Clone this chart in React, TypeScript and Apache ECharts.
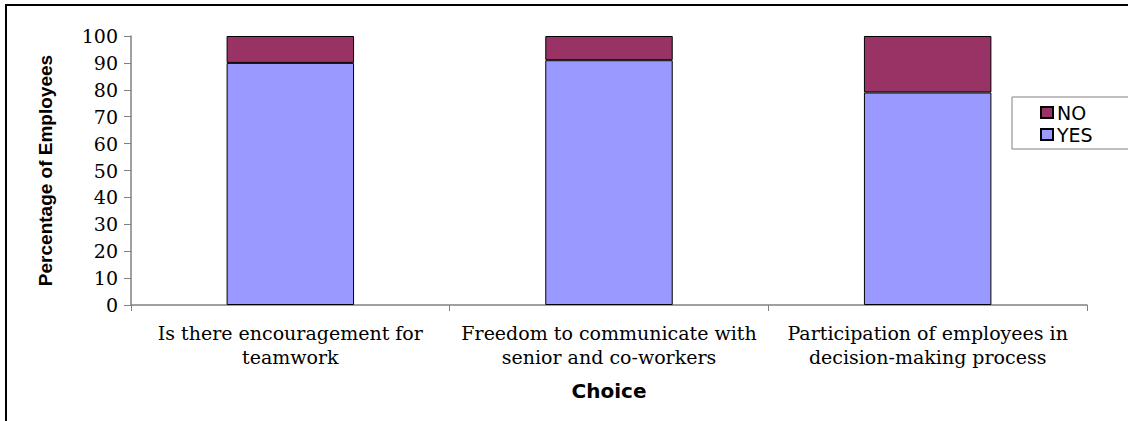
import React, { useEffect, useRef } from "react";
import * as echarts from "echarts";

const categories = [
  "Is there encouragement for\nteamwork",
  "Freedom to communicate with\nsenior and co-workers",
  "Participation of employees in\ndecision-making process",
];
const yesValues = [90, 91, 79];
const noValues = [10, 9, 21];
const yTicks = { min: 0, max: 100, interval: 10 };

export default function App() {
  const ref = useRef<HTMLDivElement>(null);
  useEffect(() => {
    if (!ref.current) return;
    const chart = echarts.init(ref.current, null, { renderer: "svg" });
    chart.setOption({
      animation: false,
      backgroundColor: "#ffffff",
      graphic: [
        {
          type: "rect",
          shape: { x: 6, y: 5, width: 1300, height: 600 },
          style: { fill: "none", stroke: "#000000", lineWidth: 2 },
          silent: true,
          z: 100,
        },
      ],
      grid: { left: 131, right: 41, top: 36, bottom: 116 },
      legend: {
        data: ["NO", "YES"],
        orient: "vertical",
        left: 1012,
        top: 97,
        padding: [6, 40, 5, 28],
        itemGap: 3,
        itemWidth: 12,
        itemHeight: 11,
        icon: "rect",
        borderColor: "#808080",
        borderWidth: 1,
        backgroundColor: "#ffffff",
        textStyle: { fontFamily: "DejaVu Sans", fontSize: 19, color: "#000", padding: [0, 0, 0, -1] },
      },
      xAxis: {
        type: "category",
        data: categories,
        name: "Choice",
        nameLocation: "middle",
        nameGap: 76,
        nameTextStyle: { fontFamily: "DejaVu Sans", fontWeight: "bold", fontSize: 20, color: "#000" },
        axisLine: { lineStyle: { color: "#808080", width: 1.5 } },
        axisTick: { show: true, length: 6, lineStyle: { color: "#808080" } },
        axisLabel: {
          interval: 0,
          margin: 16,
          fontFamily: "DejaVu Serif",
          fontSize: 19,
          lineHeight: 24,
          color: "#000",
        },
      },
      yAxis: {
        type: "value",
        min: yTicks.min,
        max: yTicks.max,
        interval: yTicks.interval,
        name: "Percentage of Employees",
        nameLocation: "middle",
        nameGap: 76,
        nameTextStyle: { fontFamily: "Liberation Sans", fontWeight: "bold", fontSize: 19, color: "#000" },
        splitLine: { show: false },
        axisLine: { show: true, lineStyle: { color: "#808080", width: 1.5 } },
        axisTick: { show: true, length: 7, lineStyle: { color: "#808080" } },
        axisLabel: { margin: 13, fontFamily: "DejaVu Serif", fontSize: 19, color: "#000" },
      },
      series: [
        {
          name: "YES",
          type: "bar",
          stack: "total",
          data: yesValues,
          barWidth: "40%",
          itemStyle: { color: "#9999FF", borderColor: "#000000", borderWidth: 1 },
        },
        {
          name: "NO",
          type: "bar",
          stack: "total",
          data: noValues,
          barWidth: "40%",
          itemStyle: { color: "#993366", borderColor: "#000000", borderWidth: 1 },
        },
      ],
    });
    return () => chart.dispose();
  }, []);
  return (
    <div
      ref={ref}
      style={{ position: "fixed", left: 0, top: 0, width: 1128, height: 421, background: "#fff" }}
    />
  );
}
